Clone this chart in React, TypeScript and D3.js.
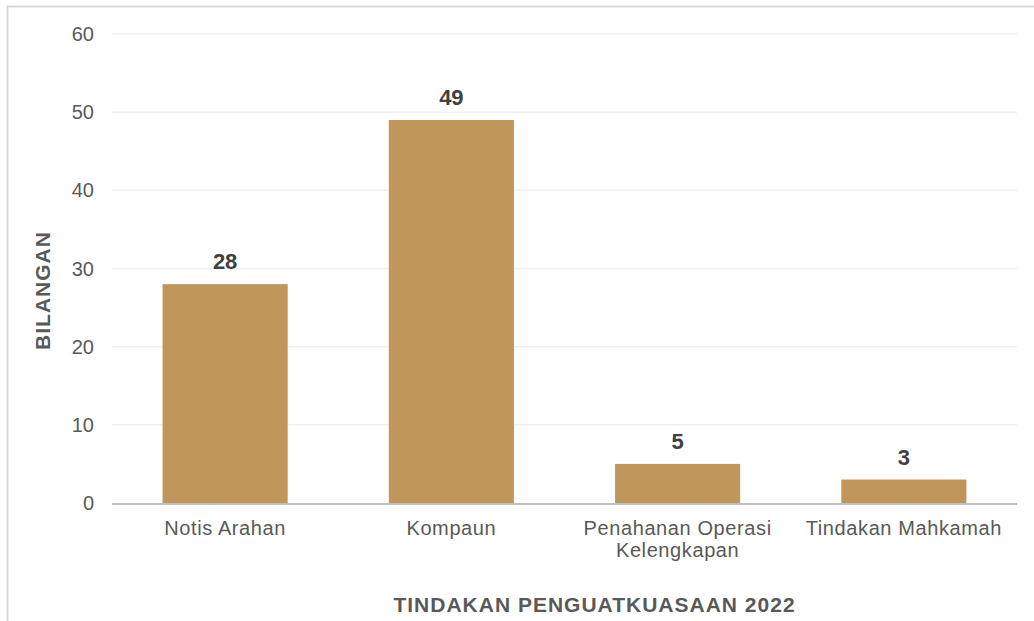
import React, { useEffect, useRef } from 'react';
import * as d3 from 'd3';

const categories = ['Notis Arahan', 'Kompaun', 'Penahanan Operasi Kelengkapan', 'Tindakan Mahkamah'];
const categoryLines = [['Notis Arahan'], ['Kompaun'], ['Penahanan Operasi', 'Kelengkapan'], ['Tindakan Mahkamah']];
const values = [28, 49, 5, 3];
const yTicks = [0, 10, 20, 30, 40, 50, 60];

const App = () => {
  const svgRef = useRef(null);

  useEffect(() => {
    document.body.style.margin = '0';
    if (!svgRef.current) return;

    const width = 1034;
    const height = 621;
    const margin = { top: 34, right: 17, bottom: 118, left: 112 };
    const font = '"Liberation Sans", Arial, sans-serif';

    const svg = d3.select(svgRef.current).attr('width', width).attr('height', height);
    svg.selectAll('*').remove();

    // outer frame, runs past the right and bottom edges
    svg
      .append('rect')
      .attr('x', 7.5)
      .attr('y', 6.5)
      .attr('width', width + 20)
      .attr('height', height + 20)
      .attr('fill', '#fff')
      .attr('stroke', '#d9d9d9')
      .attr('stroke-width', 2);

    const x = d3
      .scaleBand()
      .domain(categories)
      .range([margin.left, width - margin.right])
      .paddingInner(0.447)
      .paddingOuter(0.2235);

    const y = d3
      .scaleLinear()
      .domain([0, 60])
      .range([height - margin.bottom, margin.top]);

    // gridlines
    svg
      .append('g')
      .selectAll('line')
      .data(yTicks.filter((t) => t > 0))
      .enter()
      .append('line')
      .attr('x1', margin.left)
      .attr('x2', width - margin.right)
      .attr('y1', (d) => y(d))
      .attr('y2', (d) => y(d))
      .attr('stroke', '#efefef')
      .attr('stroke-width', 1.5);

    // y tick labels
    svg
      .append('g')
      .selectAll('text')
      .data(yTicks)
      .enter()
      .append('text')
      .attr('x', 94)
      .attr('y', (d) => y(d))
      .attr('dy', '0.35em')
      .attr('text-anchor', 'end')
      .attr('font-family', font)
      .attr('font-size', 20)
      .attr('fill', '#595959')
      .text((d) => d);

    // bars
    svg
      .append('g')
      .selectAll('rect')
      .data(values)
      .enter()
      .append('rect')
      .attr('x', (d, i) => x(categories[i]))
      .attr('y', (d) => y(d))
      .attr('width', x.bandwidth())
      .attr('height', (d) => y(0) - y(d))
      .attr('fill', '#c0965a');

    // value labels
    svg
      .append('g')
      .selectAll('text')
      .data(values)
      .enter()
      .append('text')
      .attr('x', (d, i) => x(categories[i]) + x.bandwidth() / 2)
      .attr('y', (d) => y(d) - 15)
      .attr('text-anchor', 'middle')
      .attr('font-family', font)
      .attr('font-size', 22)
      .attr('font-weight', 'bold')
      .attr('fill', '#404040')
      .text((d) => d);

    // baseline
    svg
      .append('line')
      .attr('x1', margin.left)
      .attr('x2', width - margin.right)
      .attr('y1', y(0) + 1)
      .attr('y2', y(0) + 1)
      .attr('stroke', '#bfbfbf')
      .attr('stroke-width', 2);

    // category labels
    const catG = svg
      .append('g')
      .selectAll('text')
      .data(categoryLines)
      .enter()
      .append('text')
      .attr('text-anchor', 'middle')
      .attr('font-family', font)
      .attr('font-size', 20)
      .attr('letter-spacing', 0.6)
      .attr('fill', '#595959');

    catG
      .selectAll('tspan')
      .data((d, i) => d.map((line) => ({ line, i })))
      .enter()
      .append('tspan')
      .attr('x', (d) => x(categories[d.i]) + x.bandwidth() / 2)
      .attr('y', (d, j) => 535 + j * 22)
      .text((d) => d.line);

    // axis titles
    svg
      .append('text')
      .attr('x', (margin.left + width - margin.right) / 2 + 30)
      .attr('y', 612)
      .attr('text-anchor', 'middle')
      .attr('font-family', font)
      .attr('font-size', 21)
      .attr('font-weight', 'bold')
      .attr('letter-spacing', 1)
      .attr('fill', '#595959')
      .text('TINDAKAN PENGUATKUASAAN 2022');

    svg
      .append('text')
      .attr('transform', `translate(50,${(margin.top + height - margin.bottom) / 2 + 22}) rotate(-90)`)
      .attr('text-anchor', 'middle')
      .attr('font-family', font)
      .attr('font-size', 21)
      .attr('font-weight', 'bold')
      .attr('letter-spacing', 1)
      .attr('fill', '#595959')
      .text('BILANGAN');
  }, []);

  return <svg ref={svgRef} style={{ display: 'block' }} />;
};

export default App;
